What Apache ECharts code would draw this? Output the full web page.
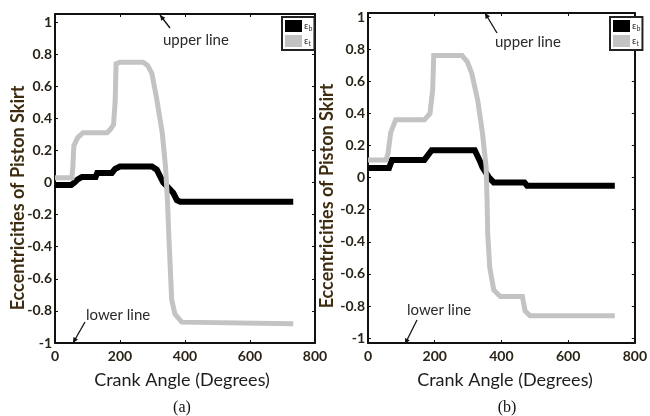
<!DOCTYPE html>
<html>
<head>
<meta charset="utf-8">
<script src="https://cdn.jsdelivr.net/npm/echarts@6/dist/echarts.min.js"></script>
<style>html,body{margin:0;padding:0;background:#fff}#c{width:650px;height:416px}</style>
</head>
<body>
<div id="c"></div>
<script>
// ---- data ----
const xTicks = [0, 200, 400, 600, 800];
const yTicks = [-1, -0.8, -0.6, -0.4, -0.2, 0, 0.2, 0.4, 0.6, 0.8, 1];
const seriesNames = ['εb', 'εt'];

// (a) crank angle [deg], eccentricity
const ebA = [[0,-0.015],[50,-0.015],[60,0.0],[70,0.02],[83,0.035],[125,0.035],[130,0.06],[175,0.06],[185,0.085],[200,0.1],[298,0.1],[313,0.08],[333,0.0],[348,-0.03],[364,-0.065],[375,-0.11],[385,-0.12],[733,-0.12]];
const etA = [[0,0.03],[52,0.03],[55,0.1],[58,0.23],[70,0.28],[86,0.31],[160,0.31],[170,0.33],[180,0.36],[185,0.5],[188,0.74],[200,0.75],[271,0.75],[285,0.73],[298,0.68],[313,0.52],[330,0.31],[340,0.1],[346,-0.11],[350,-0.32],[359,-0.73],[369,-0.82],[390,-0.87],[733,-0.88]];

// (b)
const ebB = [[0,0.06],[63,0.06],[72,0.11],[169,0.11],[191,0.17],[320,0.17],[334,0.11],[343,0.066],[363,0.0],[377,-0.03],[469,-0.03],[477,-0.05],[740,-0.05]];
const etB = [[0,0.11],[54,0.11],[60,0.15],[68,0.28],[83,0.36],[169,0.36],[186,0.4],[194,0.55],[197,0.76],[282,0.76],[298,0.72],[311,0.65],[329,0.48],[343,0.28],[354,0.07],[357,-0.14],[359,-0.35],[365,-0.56],[377,-0.70],[397,-0.74],[463,-0.74],[471,-0.83],[486,-0.86],[740,-0.86]];

const yRangeA = [-1, 1.05];
const yRangeB = [-1.03, 1.025];

// ---- chart ----
const chart = echarts.init(document.getElementById('c'), null, {renderer: 'canvas'});
const labelFont = {fontFamily: 'Lato', fontWeight: 'bold', fontSize: 14, color: '#2a2418'};
const titleColor = '#3f2d12';

function xAx(grid, top) {
  return {
    type: 'value', gridIndex: grid, min: 0, max: 800, interval: 200,
    position: top ? 'top' : 'bottom',
    axisLine: {show: true, onZero: false, lineStyle: {color: '#111', width: 2}},
    axisTick: {show: true, inside: true, length: 3, lineStyle: {color: '#111', width: 1}},
    axisLabel: Object.assign({show: !top, margin: 6}, labelFont),
    splitLine: {show: false}
  };
}
function yAx(grid, right, range) {
  return {
    type: 'value', gridIndex: grid, min: range[0], max: range[1],
    position: right ? 'right' : 'left',
    axisLine: {show: true, onZero: false, lineStyle: {color: '#111', width: 2}},
    axisTick: {show: true, inside: true, length: 3, customValues: yTicks, lineStyle: {color: '#111', width: 1}},
    axisLabel: Object.assign({show: !right, margin: 3, customValues: yTicks, formatter: v => String(v)}, labelFont),
    splitLine: {show: false}
  };
}
function line(name, data, xi, yi, color, w) {
  return {
    name: name, type: 'line', data: data, xAxisIndex: xi, yAxisIndex: yi,
    showSymbol: false, symbol: 'none', animation: false,
    lineStyle: {color: color, width: w, cap: 'butt', join: 'miter'},
    itemStyle: {color: color}
  };
}
function legend(left) {
  return {
    data: seriesNames, orient: 'vertical', left: left, top: 17, icon: 'rect',
    itemWidth: 17, itemHeight: 12, itemGap: 3, padding: [3, 2, 3, 3],
    borderColor: '#222', borderWidth: 2, backgroundColor: '#fff',
    selectedMode: false,
    formatter: n => '{e|ε}{s|' + n.slice(1) + '}',
    textStyle: {color: '#333', fontFamily: 'Lato', padding: [0, 0, 0, -3],
      rich: {e: {fontSize: 10, color: '#333'}, s: {fontSize: 7, color: '#333', padding: [5, 0, 0, 0]}}}
  };
}
function arrow(x1, y1, x2, y2) {
  const a = Math.atan2(y2 - y1, x2 - x1), L = 6, w = 0.45;
  return [
    {type: 'line', shape: {x1: x1, y1: y1, x2: x2, y2: y2}, style: {stroke: '#111', lineWidth: 1.3}},
    {type: 'polygon', shape: {points: [[x2, y2],
      [x2 - L * Math.cos(a - w), y2 - L * Math.sin(a - w)],
      [x2 - L * Math.cos(a + w), y2 - L * Math.sin(a + w)]]}, style: {fill: '#111'}}
  ];
}
function txt(x, y, s, font, extra) {
  return Object.assign({type: 'text', x: x, y: y, style: Object.assign({text: s, fill: '#222', textVerticalAlign: 'middle'}, font)}, extra || {});
}

const graphics = [].concat(
  arrow(170, 28, 160, 15), arrow(497, 33, 485, 13),
  arrow(85, 322, 73, 343), arrow(417, 320, 405, 344),
  [
    txt(163, 40, 'upper line', {font: '15px Lato', fill: '#2a2a2a'}),
    txt(495, 42, 'upper line', {font: '15px Lato', fill: '#2a2a2a'}),
    txt(86, 315, 'lower line', {font: '15px Lato', fill: '#2a2a2a'}),
    txt(407, 310, 'lower line', {font: '15px Lato', fill: '#2a2a2a'}),
    txt(182, 380, 'Crank Angle (Degrees)', {font: '18px Lato', fill: '#1c1c1c', textAlign: 'center'}),
    txt(505, 380, 'Crank Angle (Degrees)', {font: '18px Lato', fill: '#1c1c1c', textAlign: 'center'}),
    txt(182, 408, '(a)', {font: '16px "Liberation Serif"', fill: '#111', textAlign: 'center'}),
    txt(507, 408, '(b)', {font: '16px "Liberation Serif"', fill: '#111', textAlign: 'center'}),
    txt(18, 198, 'Eccentricities of Piston Skirt', {font: 'bold 18px Lato', fill: titleColor, textAlign: 'center'}, {rotation: Math.PI / 2}),
    txt(327, 196, 'Eccentricities of Piston Skirt', {font: 'bold 18px Lato', fill: titleColor, textAlign: 'center'}, {rotation: Math.PI / 2})
  ]
);

chart.setOption({
  animation: false,
  backgroundColor: '#fff',
  grid: [
    {left: 55, top: 14, width: 260, height: 329, show: false},
    {left: 368, top: 13, width: 280, height: 330, show: false}
  ],
  xAxis: [xAx(0, false), xAx(0, true), xAx(1, false), xAx(1, true)],
  yAxis: [yAx(0, false, yRangeA), yAx(0, true, yRangeA), yAx(1, false, yRangeB), yAx(1, true, yRangeB)],
  legend: [legend(282), legend(610)],
  series: [
    line(seriesNames[0], ebA, 0, 0, '#000', 6),
    line(seriesNames[1], etA, 0, 0, '#c3c3c3', 5),
    line(seriesNames[0], ebB, 2, 2, '#000', 6),
    line(seriesNames[1], etB, 2, 2, '#c3c3c3', 5)
  ],
  graphic: graphics
});
</script>
</body>
</html>
